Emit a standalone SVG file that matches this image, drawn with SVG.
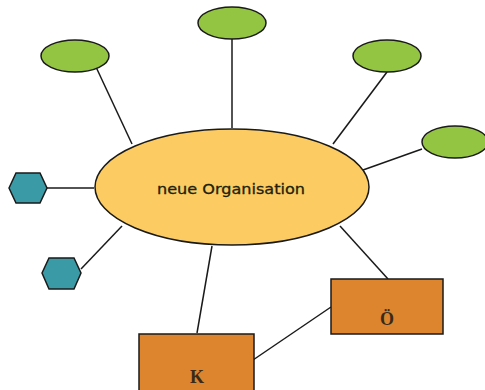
<svg xmlns="http://www.w3.org/2000/svg" width="485" height="390" viewBox="0 0 485 390">
<style>
.bg{fill:#ffffff}
.ln{stroke:#1a1a1a;stroke-width:1.5;fill:none}
.green{fill:#93c542;stroke:#1a1a1a;stroke-width:1.5}
.hex{fill:#3a9aa6;stroke:#1a1a1a;stroke-width:1.5}
.box{fill:#dd842f;stroke:#1a1a1a;stroke-width:1.5}
.core{fill:#fccb62;stroke:#1a1a1a;stroke-width:1.5}
.t1{font-family:"DejaVu Sans",Verdana,sans-serif;font-size:14px;fill:#1f1f0a;stroke:#1f1f0a;stroke-width:0.3;text-anchor:middle}
.t2{font-family:"Liberation Serif","Times New Roman",serif;font-size:18px;font-weight:bold;fill:#3a2a1a;text-anchor:middle}
</style>
<rect class="bg" x="0" y="0" width="485" height="390"/>
<g id="connectors">
<line class="ln" x1="232" y1="39" x2="232" y2="128"/>
<line class="ln" x1="96" y1="67" x2="132" y2="144"/>
<line class="ln" x1="387" y1="72" x2="333" y2="144"/>
<line class="ln" x1="422" y1="149" x2="363" y2="170"/>
<line class="ln" x1="47" y1="188" x2="94" y2="188"/>
<line class="ln" x1="81" y1="269" x2="122" y2="226"/>
<line class="ln" x1="212" y1="246" x2="197" y2="333"/>
<line class="ln" x1="340" y1="226" x2="388" y2="279"/>
<line class="ln" x1="331" y1="307" x2="253" y2="360"/>
</g>
<g id="core"><ellipse class="core" cx="232" cy="187" rx="137" ry="58"/><text class="t1" x="231" y="194" textLength="148" lengthAdjust="spacingAndGlyphs">neue Organisation</text></g>
<g id="e-top"><ellipse class="green" cx="232" cy="23" rx="34" ry="16"/></g>
<g id="e-topleft"><ellipse class="green" cx="75" cy="56" rx="34" ry="16"/></g>
<g id="e-topright"><ellipse class="green" cx="387" cy="56" rx="34" ry="16"/></g>
<g id="e-right"><ellipse class="green" cx="455" cy="142" rx="33" ry="16"/></g>
<g id="hex1"><polygon class="hex" points="9,188 16,173 40,173 47,188 40,203 16,203"/></g>
<g id="hex2"><polygon class="hex" points="42,273 49,258 74,258 81,273 74,289 49,289"/></g>
<g id="box-o"><rect class="box" x="331" y="279" width="112" height="55"/><text class="t2" x="387" y="325">Ö</text></g>
<g id="box-k"><rect class="box" x="139" y="334" width="115" height="58"/><text class="t2" x="197" y="383">K</text></g>
</svg>
